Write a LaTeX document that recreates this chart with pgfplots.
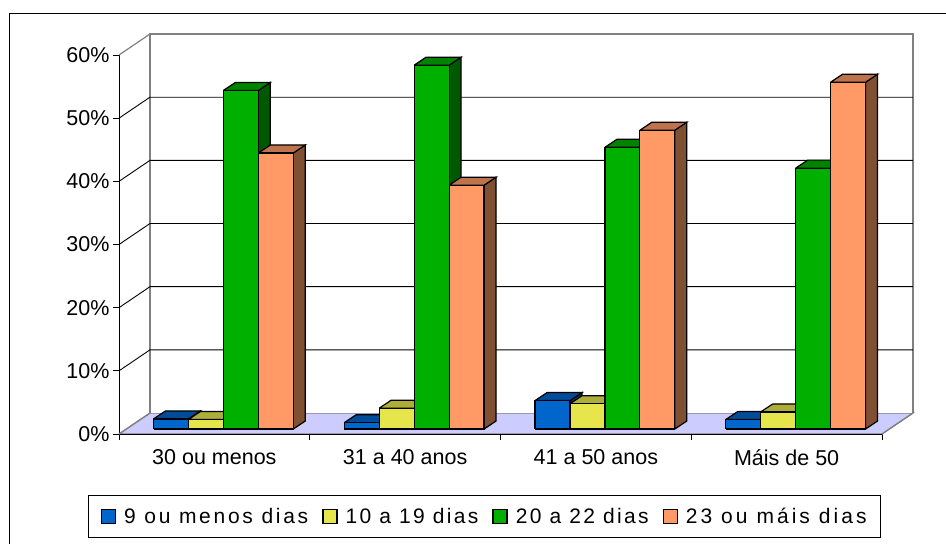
\documentclass[border=0pt]{standalone}
\usepackage{pgfplots}
\pgfplotsset{compat=1.18}
\usepackage{fontspec}
\setmainfont{Liberation Sans}
\definecolor{bluef}{HTML}{0066CC}
\definecolor{bluet}{HTML}{004C99}
\definecolor{blues}{HTML}{003366}
\definecolor{yelf}{HTML}{E6E64C}
\definecolor{yelt}{HTML}{ADAD39}
\definecolor{yels}{HTML}{737326}
\definecolor{grnf}{HTML}{00B000}
\definecolor{grnt}{HTML}{008400}
\definecolor{grns}{HTML}{005800}
\definecolor{orgf}{HTML}{FF9966}
\definecolor{orgt}{HTML}{BF734D}
\definecolor{orgs}{HTML}{805033}
\definecolor{floorc}{HTML}{CCCCFF}

% one 3D bar: group, bar index, value, colour stem
\newcommand{\bartd}[6]{%
  \pgfmathsetmacro{\xa}{#1+0.181+#2*0.1832}
  \pgfmathsetmacro{\xb}{\xa+0.1832}
  \pgfmathsetmacro{\xc}{\xa+0.0628}
  \pgfmathsetmacro{\xd}{\xb+0.0628}
  \pgfmathsetmacro{\ya}{0.79}
  \pgfmathsetmacro{\yb}{#3+0.79}
  \pgfmathsetmacro{\yc}{\ya+1.266}
  \pgfmathsetmacro{\yd}{\yb+1.266}
  \addplot[draw=black,line width=1.2pt,fill=#6,forget plot] coordinates {(\xb,\ya) (\xd,\yc) (\xd,\yd) (\xb,\yb) (\xb,\ya)};
  \addplot[draw=black,line width=1.2pt,fill=#5,forget plot] coordinates {(\xa,\yb) (\xc,\yd) (\xd,\yd) (\xb,\yb) (\xa,\yb)};
  \addplot[draw=black,line width=1.2pt,fill=#4,forget plot] coordinates {(\xa,\ya) (\xb,\ya) (\xb,\yb) (\xa,\yb) (\xa,\ya)};
}

\pgfplotsset{sqleg/.style={legend image code/.code={\draw[draw=black,line width=1.3pt,fill=#1] (0pt,-7pt) rectangle (14pt,7pt);}}}

\begin{document}
\begin{tikzpicture}[x=1pt,y=1pt]
\path[use as bounding box] (0,0) rectangle (946,544);
\draw[black,line width=1pt] (9,-2) -- (9,530.5) -- (948,530.5);
\begin{axis}[
  at={(119pt,110pt)}, anchor=south west,
  scale only axis, width=763pt, height=379pt,
  xmin=0, xmax=4, ymin=0, ymax=60,
  axis lines=left, axis line style={-,black,line width=0.9pt},
  clip=false,
  xtick={0,1,2,3,4}, xticklabels={},
  extra x ticks={0.5,1.5,2.5,3.5},
  extra x tick labels={30 ou menos,31 a 40 anos,41 a 50 anos,Máis de 50},
  extra x tick style={major tick length=0pt, tick label style={yshift=-12pt}},
  ytick={0,10,20,30,40,50,60},
  yticklabel={\pgfmathprintnumber{\tick}\%},
  /pgf/number format/assume math mode=true,
  tick align=outside, major tick length=6pt,
  tick style={black,line width=0.9pt},
  tick label style={font=\fontsize{21.5}{25}\selectfont},
  legend style={at={(0.9987,-0.2745)}, anchor=south east, draw=black, line width=0.9pt,
    font=\fontsize{21}{25}\selectfont, legend columns=4,
    inner xsep=12pt, inner ysep=10.5pt,
    /tikz/every even column/.append style={column sep=12pt},
    /tikz/every odd column/.append style={column sep=6pt}},
  legend cell align=left,
]
% floor and back wall
\addplot[draw=gray,line width=1.2pt,fill=floorc,forget plot] coordinates {(0,0) (0.1623,3.32) (4.1623,3.32) (4,0) (0,0)};
\addplot[draw=gray,line width=1.4pt,fill=white,forget plot] coordinates {(0.1623,3.32) (0.1623,63.32) (4.1623,63.32) (4.1623,3.32)};
\addplot[draw=black,line width=0.9pt,forget plot] coordinates {(0,0) (4,0)};
% grid
\addplot[black,line width=0.9pt,forget plot] coordinates {(0,10) (0.1623,13.32) (4.1623,13.32)};
\addplot[black,line width=0.9pt,forget plot] coordinates {(0,20) (0.1623,23.32) (4.1623,23.32)};
\addplot[black,line width=0.9pt,forget plot] coordinates {(0,30) (0.1623,33.32) (4.1623,33.32)};
\addplot[black,line width=0.9pt,forget plot] coordinates {(0,40) (0.1623,43.32) (4.1623,43.32)};
\addplot[black,line width=0.9pt,forget plot] coordinates {(0,50) (0.1623,53.32) (4.1623,53.32)};
\addplot[gray,line width=1.2pt,forget plot] coordinates {(0,60) (0.1623,63.32)};
\addplot[gray,line width=1.2pt,forget plot] coordinates {(0,0) (0.1623,3.32)};
\addplot[gray,line width=1.2pt,forget plot] coordinates {(4,0) (4.1623,3.32)};
% bars
\bartd{0}{0}{1.6}{bluef}{bluet}{blues}
\bartd{0}{1}{1.5}{yelf}{yelt}{yels}
\bartd{0}{2}{53.6}{grnf}{grnt}{grns}
\bartd{0}{3}{43.7}{orgf}{orgt}{orgs}
\bartd{1}{0}{1.0}{bluef}{bluet}{blues}
\bartd{1}{1}{3.3}{yelf}{yelt}{yels}
\bartd{1}{2}{57.6}{grnf}{grnt}{grns}
\bartd{1}{3}{38.6}{orgf}{orgt}{orgs}
\bartd{2}{0}{4.5}{bluef}{bluet}{blues}
\bartd{2}{1}{4.0}{yelf}{yelt}{yels}
\bartd{2}{2}{44.6}{grnf}{grnt}{grns}
\bartd{2}{3}{47.3}{orgf}{orgt}{orgs}
\bartd{3}{0}{1.5}{bluef}{bluet}{blues}
\bartd{3}{1}{2.7}{yelf}{yelt}{yels}
\bartd{3}{2}{41.3}{grnf}{grnt}{grns}
\bartd{3}{3}{54.9}{orgf}{orgt}{orgs}
\addlegendimage{sqleg=bluef}
\addlegendentry{\addfontfeature{LetterSpace=13}9 ou menos dias}
\addlegendimage{sqleg=yelf}
\addlegendentry{\addfontfeature{LetterSpace=11}10 a 19 dias}
\addlegendimage{sqleg=grnf}
\addlegendentry{\addfontfeature{LetterSpace=11}20 a 22 dias}
\addlegendimage{sqleg=orgf}
\addlegendentry{\addfontfeature{LetterSpace=14.5}23 ou máis dias}
\end{axis}
\end{tikzpicture}
\end{document}
